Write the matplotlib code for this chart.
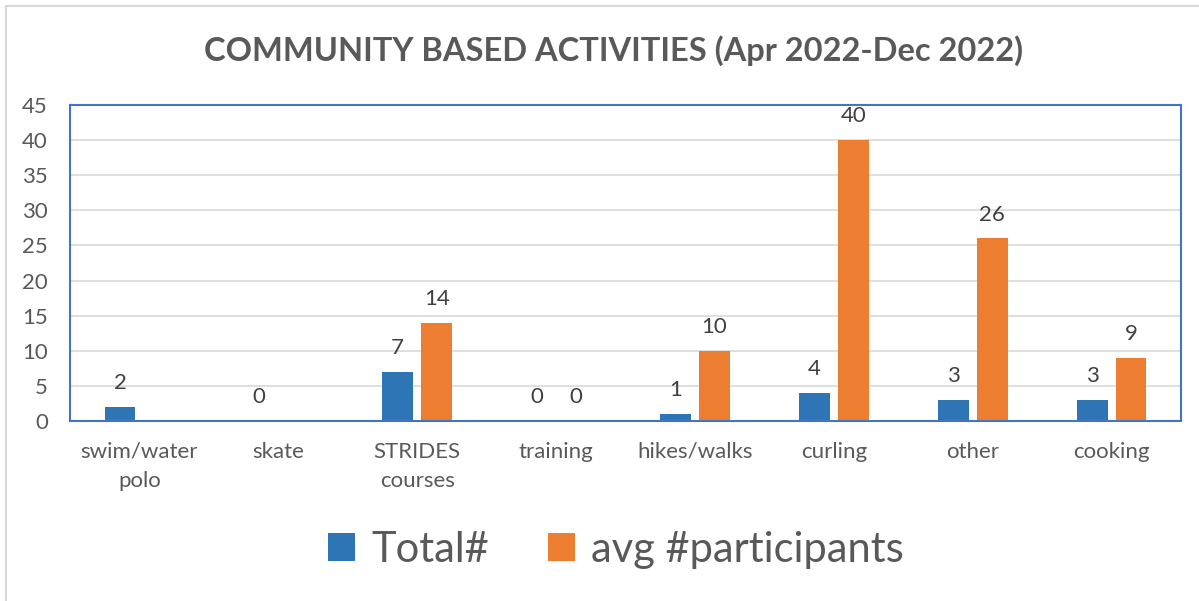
import matplotlib.pyplot as plt
import numpy as np
from matplotlib.patches import Rectangle

categories = ["swim/water\npolo", "skate", "STRIDES\ncourses", "training",
              "hikes/walks", "curling", "other", "cooking"]
total = [2, 0, 7, 0, 1, 4, 3, 3]
avg_participants = [np.nan, np.nan, 14, 0, 10, 40, 26, 9]
y_ticks = [0, 5, 10, 15, 20, 25, 30, 35, 40, 45]

BLUE = "#2E75B6"
ORANGE = "#ED7D31"
TEXT = "#595959"

plt.rcParams["font.family"] = ["Lato", "DejaVu Sans"]

fig = plt.figure(figsize=(11.99, 6.01), dpi=100)
ax = fig.add_axes([70 / 1199, 1 - 421 / 601, 1111 / 1199, 316 / 601])

x = np.arange(len(categories))
w = 0.223
off = 0.14
b1 = ax.bar(x - off, total, w, color=BLUE, label="Total#")
b2 = ax.bar(x + off, avg_participants, w, color=ORANGE, label="avg #participants")

for bars, vals in ((b1, total), (b2, avg_participants)):
    for rect, v in zip(bars, vals):
        if np.isnan(v):
            continue
        ax.annotate(f"{v:g}", (rect.get_x() + rect.get_width() / 2, v),
                    xytext=(0, 10), textcoords="offset points",
                    ha="center", va="bottom", fontsize=16, color="#404040")

ax.set_xlim(-0.5, len(categories) - 0.5)
ax.set_ylim(0, 45)
ax.set_yticks(y_ticks)
ax.set_xticks(x)
ax.set_xticklabels(categories, linespacing=1.6)
ax.tick_params(axis="both", length=0, labelsize=16, labelcolor=TEXT)
ax.tick_params(axis="y", pad=16)
ax.tick_params(axis="x", pad=15)
ax.yaxis.grid(True, color="#D9D9D9", lw=1.2)
ax.set_axisbelow(True)
for s in ax.spines.values():
    s.set_color("#4472C4")
    s.set_linewidth(1.5)

fig.text(0.512, 1 - 51 / 601, "COMMUNITY BASED ACTIVITIES (Apr 2022-Dec 2022)",
         ha="center", va="center", fontsize=23.5, fontweight="bold", color=TEXT)

fig.legend(loc="center", bbox_to_anchor=(616 / 1199, 1 - 550 / 601), ncol=2,
           frameon=False, fontsize=30, labelcolor=TEXT, handlelength=0.65,
           handleheight=0.65, handletextpad=0.4, columnspacing=1.4)

fig.patches.append(Rectangle((6 / 1199, -0.1), 1.2, 1 - 6 / 601 + 0.1,
                             transform=fig.transFigure, fill=False,
                             edgecolor="#D9D9D9", lw=1.5))

fig.savefig("out.png", dpi=100)
